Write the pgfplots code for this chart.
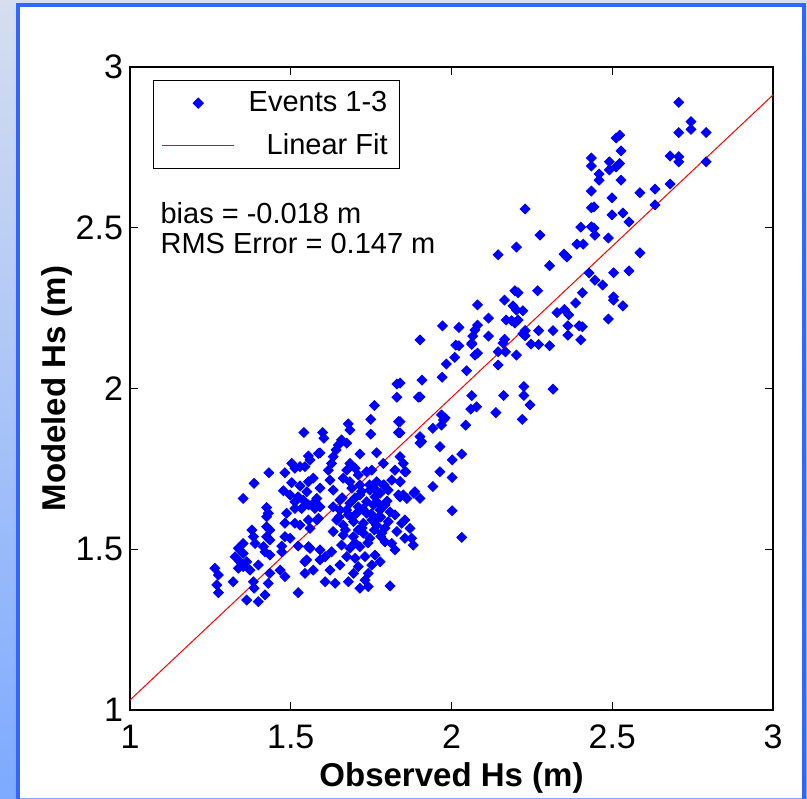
\documentclass[border=0pt]{standalone}
\usepackage{pgfplots}
\pgfplotsset{compat=1.18}
\usepackage{fontspec}
\setmainfont{Liberation Sans}
\definecolor{bgtop}{RGB}{214,222,240}
\definecolor{bgbot}{RGB}{125,170,255}
\definecolor{frameblue}{RGB}{51,102,255}
\begin{document}
\begin{tikzpicture}
\useasboundingbox (0pt,0pt) rectangle (403.5pt,399pt);
\shade[top color=bgtop, bottom color=bgbot] (0pt,0pt) rectangle (403.5pt,399pt);
\fill[white] (9pt,0pt) rectangle (402pt,396.5pt);
\draw[frameblue, line width=2pt] (9pt,-1pt) -- (9pt,396.5pt) -- (402pt,396.5pt) -- (402pt,-1pt);
\begin{axis}[
  at={(65pt,44pt)}, anchor=south west,
  scale only axis, width=321.5pt, height=321.5pt,
  xmin=1, xmax=3, ymin=1, ymax=3,
  xtick={1,1.5,2,2.5,3}, ytick={1,1.5,2,2.5,3},
  /pgf/number format/assume math mode=true,
  tick label style={font=\fontsize{17}{19}\selectfont},
  xticklabel style={yshift=-4pt},
  major tick length=4.2pt,
  axis line style={line width=0.8pt},
  every tick/.style={black, line width=0.7pt},
  xlabel={\bfseries Observed Hs (m)},
  ylabel={\bfseries Modeled Hs (m)},
  label style={font=\fontsize{16.5}{19}\selectfont},
  xlabel style={at={(axis description cs:0.5,-0.106)}, anchor=center},
  ylabel style={at={(axis description cs:-0.1135,0.5)}, anchor=center},
  legend style={at={(0.036,0.98)}, anchor=north west, draw=black, line width=0.6pt,
    font=\fontsize{14.5}{16}\selectfont, inner xsep=4pt, inner ysep=3.5pt, row sep=5.5pt,
    column sep=5pt, cells={anchor=west}},
  legend cell align=left,
]
\addplot[only marks, mark=square*, mark size=1.75pt, mark options={rotate=45}, color=blue,
  legend image code/.code={\draw[blue, mark=square*, mark size=1.75pt, mark options={rotate=45}, only marks] plot coordinates {(18pt,0pt)};}]
coordinates {
(2.707,2.890) (2.745,2.830) (2.745,2.806) (2.707,2.796) (2.792,2.796)
(2.512,2.779) (2.523,2.788) (2.527,2.739) (2.435,2.717) (2.435,2.692)
(2.491,2.705) (2.523,2.700) (2.512,2.689) (2.491,2.680) (2.459,2.667)
(2.459,2.648) (2.527,2.648) (2.680,2.723) (2.707,2.721) (2.707,2.705)
(2.792,2.705) (2.435,2.614) (2.586,2.609) (2.633,2.620) (2.680,2.636)
(2.499,2.593) (2.435,2.562) (2.443,2.565) (2.633,2.571) (2.229,2.558)
(2.499,2.540) (2.533,2.546) (2.552,2.518) (2.402,2.502) (2.435,2.503)
(2.443,2.499) (2.446,2.477) (2.275,2.477) (2.488,2.468) (2.202,2.440)
(2.145,2.416) (2.390,2.449) (2.410,2.449) (2.350,2.418) (2.359,2.409)
(2.586,2.422) (2.305,2.382) (2.428,2.359) (2.446,2.337) (2.504,2.360)
(2.552,2.366) (2.470,2.322) (2.197,2.304) (2.207,2.298) (2.165,2.275)
(2.268,2.304) (2.407,2.298) (2.504,2.285) (2.504,2.275) (2.533,2.257)
(2.386,2.266) (2.081,2.260) (2.115,2.219) (2.191,2.257) (2.202,2.244)
(2.222,2.242) (2.207,2.213) (2.187,2.211) (2.197,2.204) (2.170,2.213)
(2.328,2.236) (2.351,2.246) (2.365,2.229) (2.488,2.216) (1.972,2.195)
(2.023,2.190) (2.081,2.197) (2.073,2.182) (2.066,2.163) (2.063,2.141)
(2.115,2.163) (2.165,2.153) (2.160,2.141) (2.168,2.114) (2.145,2.114)
(2.229,2.180) (2.222,2.170) (2.229,2.164) (2.202,2.104) (2.271,2.180)
(2.316,2.180) (2.247,2.138) (2.271,2.137) (2.305,2.133) (2.362,2.195)
(2.397,2.195) (2.407,2.192) (2.362,2.166) (2.402,2.151) (1.902,2.151)
(2.013,2.135) (2.023,2.133) (2.063,2.137) (2.010,2.097) (1.984,2.076)
(2.047,2.055) (2.081,2.110) (2.073,2.104) (2.145,2.073) (1.971,2.035)
(1.908,2.026) (1.902,1.974) (1.840,2.017) (2.063,1.978) (2.162,1.978)
(2.225,2.006) (2.225,1.978) (2.316,1.998) (2.244,1.949) (2.138,1.925)
(2.220,1.904) (2.078,1.943) (2.060,1.936) (1.840,1.897) (1.840,1.862)
(1.902,1.850) (1.907,1.835) (1.902,1.830) (1.942,1.876) (1.969,1.918)
(1.975,1.902) (1.969,1.886) (1.980,1.908) (2.044,1.886) (1.964,1.819)
(2.032,1.796) (2.002,1.778) (1.840,1.788) (1.850,1.767) (1.858,1.741)
(1.840,1.710) (1.840,1.663) (1.850,1.669) (1.964,1.741) (2.002,1.723)
(1.942,1.695) (1.883,1.674) (1.902,1.658) (2.002,1.620) (1.855,1.591)
(1.845,1.581) (1.871,1.565) (1.876,1.534) (1.881,1.513) (1.855,1.534)
(2.032,1.537) (1.749,1.904) (1.835,1.897) (1.749,1.858) (1.835,1.863)
(1.679,1.890) (1.684,1.871) (1.541,1.863) (1.599,1.863) (1.603,1.845)
(1.658,1.840) (1.648,1.824) (1.674,1.830) (1.641,1.809) (1.591,1.800)
(1.632,1.788) (1.627,1.767) (1.715,1.796) (1.767,1.800) (1.788,1.767)
(1.544,1.757) (1.560,1.778) (1.617,1.746) (1.684,1.767) (1.700,1.752)
(1.674,1.746) (1.710,1.731) (1.736,1.741) (1.752,1.746) (1.824,1.746)
(1.855,1.741) (1.814,1.715) (1.840,1.710) (1.570,1.721) (1.622,1.715)
(1.663,1.721) (1.591,1.690) (1.550,1.679) (1.632,1.684) (1.684,1.710)
(1.715,1.700) (1.767,1.710) (1.746,1.684) (1.778,1.674) (1.803,1.684)
(1.835,1.669) (1.886,1.679) (1.861,1.658) (1.539,1.653) (1.581,1.658)
(1.591,1.632) (1.653,1.653) (1.684,1.643) (1.710,1.632) (1.736,1.648)
(1.757,1.638) (1.778,1.622) (1.736,1.612) (1.705,1.612) (1.674,1.622)
(1.653,1.622) (1.632,1.632) (1.555,1.591) (1.581,1.591) (1.560,1.565)
(1.529,1.575) (1.643,1.591) (1.663,1.575) (1.695,1.586) (1.726,1.581)
(1.752,1.591) (1.767,1.575) (1.803,1.586) (1.632,1.555) (1.663,1.544)
(1.695,1.539) (1.726,1.550) (1.746,1.534) (1.783,1.550) (1.793,1.523)
(1.830,1.555) (1.814,1.518) (1.555,1.508) (1.591,1.498) (1.627,1.492)
(1.544,1.461) (1.607,1.477) (1.658,1.513) (1.684,1.503) (1.715,1.508)
(1.674,1.477) (1.700,1.472) (1.731,1.477) (1.762,1.482) (1.778,1.461)
(1.710,1.446) (1.695,1.425) (1.741,1.425) (1.570,1.435) (1.607,1.399)
(1.638,1.394) (1.679,1.399) (1.731,1.404) (1.741,1.384) (1.715,1.379)
(1.809,1.386) (1.555,1.790) (1.586,1.798) (1.503,1.767) (1.513,1.752)
(1.529,1.757) (1.432,1.738) (1.482,1.738) (1.386,1.705) (1.503,1.707)
(1.529,1.697) (1.555,1.710) (1.477,1.682) (1.352,1.658) (1.498,1.669)
(1.513,1.648) (1.523,1.663) (1.555,1.638) (1.575,1.648) (1.575,1.627)
(1.534,1.627) (1.513,1.627) (1.425,1.630) (1.430,1.612) (1.425,1.601)
(1.487,1.612) (1.586,1.596) (1.482,1.581) (1.513,1.581) (1.425,1.570)
(1.435,1.560) (1.425,1.539) (1.435,1.529) (1.379,1.560) (1.384,1.539)
(1.352,1.518) (1.389,1.518) (1.482,1.539) (1.498,1.534) (1.472,1.510)
(1.472,1.492) (1.523,1.510) (1.560,1.503) (1.550,1.467) (1.415,1.508)
(1.420,1.492) (1.435,1.482) (1.337,1.503) (1.352,1.487) (1.327,1.477)
(1.342,1.461) (1.363,1.461) (1.352,1.446) (1.337,1.441) (1.373,1.435)
(1.399,1.451) (1.467,1.435) (1.482,1.415) (1.435,1.425) (1.430,1.394)
(1.544,1.425) (1.321,1.399) (1.384,1.399) (1.264,1.441) (1.275,1.420)
(1.270,1.389) (1.275,1.365) (1.386,1.379) (1.420,1.358) (1.399,1.337)
(1.363,1.342) (1.523,1.365) (1.760,1.947) (1.830,2.014) (1.830,1.973)
(1.897,1.973) (1.788,1.700) (1.715,1.669) (1.762,1.663) (1.793,1.638)
(1.809,1.616) (1.771,1.597) (1.722,1.566) (1.679,1.607) (1.824,1.607)
(1.793,1.566) (1.824,1.498) (1.752,1.451) (1.653,1.451) (1.622,1.435)
(1.591,1.467) (1.690,1.690) (1.720,1.680) (1.745,1.700) (1.760,1.690)
(1.700,1.660) (1.725,1.625) (1.750,1.610) (1.770,1.645) (1.690,1.600)
(1.710,1.560) (1.760,1.560) (1.780,1.600) (1.740,1.520) (1.700,1.520)
(1.800,1.650) (1.790,1.700) (1.660,1.660) (1.650,1.600) (1.670,1.560)
(1.780,1.540)
};
\addlegendentry{Events 1-3\hspace{6pt}}
\addplot[red, line width=0.5pt,
  legend image code/.code={\draw[red, line width=0.5pt] (0pt,0pt) -- (36pt,0pt);}]
coordinates {(1,1.031) (3,2.913)};
\addlegendentry{\hspace{9pt}Linear Fit}
\node[anchor=west, align=left, font=\fontsize{14.5}{15}\selectfont, inner sep=0pt]
  at (rel axis cs:0.047,0.75) {bias = -0.018 m\\RMS Error = 0.147 m};
\end{axis}
\end{tikzpicture}
\end{document}
